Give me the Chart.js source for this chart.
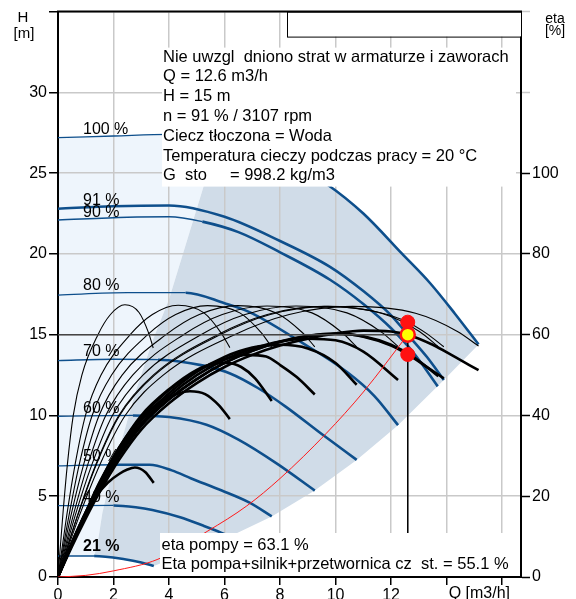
<!DOCTYPE html>
<html>
<head>
<meta charset="utf-8">
<script src="https://cdn.jsdelivr.net/npm/chart.js@4.4.1/dist/chart.umd.min.js"></script>
<style>
  html, body { margin: 0; padding: 0; background: #fff; }
  #c { display: block; }
</style>
</head>
<body>
<canvas id="c" width="576" height="599"></canvas>
<script>
// ---- Operating point ----
const opQ = 12.6;          // m3/h
const opH = 15;            // m
const etaPumpOp = 63.1;    // %
const etaTotalOp = 55.1;   // %
const speedPct = 91;
const speedRpm = 3107;

// ---- Head curves H(Q) [Q m3/h, H m] at relative speeds ----
const head100 = [[0,27.2],[2,27.3],[4,27.4],[6,27.0],[8,26.0],[9.7,24.3],[11,22.5],[12.4,20.0],[13.4,18.2],[14.3,16.3],[15.15,14.4]];
const head91  = [[0,22.8],[2,22.95],[4,23.0],[6,22.3],[8,20.8],[9.8,19.2],[11,17.7],[12,16.2],[12.6,15.0],[13.3,13.6],[13.9,12.2]];
const head90  = [[0,22.1],[2.5,22.27],[4,22.3],[5.2,22.0],[6.5,21.35],[8,20.1],[9.8,18.4],[11,16.9],[12,15.4],[12.8,13.9],[13.68,11.8]];
const head80  = [[0,17.45],[2.5,17.6],[4.6,17.6],[6.0,16.95],[6.9,16.4],[8.7,14.6],[10.4,12.7],[11.4,11.2],[12.25,9.4]];
const head70  = [[0,13.4],[2,13.48],[3.6,13.45],[5.2,13.1],[6.2,12.6],[7.2,11.7],[8.2,10.55],[9.5,8.85],[10.76,7.25]];
const head60  = [[0,9.95],[2.7,10.0],[4.0,9.9],[5.35,9.42],[6.5,8.5],[7.9,7.0],[9.25,5.35]];
const head50  = [[0,6.88],[2.0,6.95],[3.3,6.95],[4.1,6.6],[4.8,6.1],[5.9,5.35],[6.9,4.6],[7.7,3.75]];
const head40  = [[0,4.42],[2.0,4.43],[2.8,4.32],[3.4,4.15],[4.4,3.7],[5.2,3.2],[5.87,2.75],[6.19,2.5]];
const head21  = [[0,1.3],[1.3,1.3],[2.4,1.1],[3.0,0.9],[3.45,0.68]];

const speedLabels = ['100 %', '91 %', '90 %', '80 %', '70 %', '60 %', '50 %', '40 %', '21 %'];
const speedLabelH = [27.45, 23.05, 22.27, 17.76, 13.66, 10.17, 7.2, 4.63, 1.62];
const thickFromQ  = [6.0, 0, 5.2, 4.6, 3.6, 2.7, 2.0, 2.0, 1.3];
const labelQ = 0.9;

// ---- Pump efficiency [Q, eta %] ----
const etaPump21  = [[0,0],[0.17,15],[0.34,28],[0.55,40],[0.86,50],[1.44,60],[1.89,65],[2.41,67.4],[2.92,65.5],[3.26,60.5],[3.43,56.7]];
const etaPump40  = [[0,0],[0.31,15],[0.62,28],[0.99,40],[1.55,50],[2.6,60],[3.4,65],[4.33,67.3],[5.26,65.4],[5.88,60.4],[6.19,56.8]];
const etaPump50  = [[0,0],[0.39,15],[0.77,28],[1.23,40],[1.93,50],[3.23,60],[4.24,65],[5.39,67.2],[6.55,65.4],[7.32,60.5],[7.7,56.9]];
const etaPump60  = [[0,0],[0.46,15],[0.93,28],[1.48,40],[2.31,50],[3.89,60],[5.09,65],[6.48,67.2],[7.86,65.4],[8.79,60.6],[9.25,57]];
const etaPump70  = [[0,0],[0.54,15],[1.08,28],[1.72,40],[2.69,50],[4.52,60],[5.92,65],[7.53,67.1],[9.15,65.4],[10.22,60.6],[10.76,57]];
const etaPump80  = [[0,0],[0.61,15],[1.23,28],[1.96,40],[3.06,50],[5.15,60],[6.74,65],[8.58,67.1],[10.41,65.4],[11.64,60.7],[12.25,57.1]];
const etaPump90  = [[0,0],[0.69,15],[1.37,28],[2.19,40],[3.43,50],[5.75,60],[7.54,65],[9.59,67],[11.65,65.3],[13.02,60.8],[13.7,57]];
const etaPump91  = [[0,0],[0.7,15],[1.39,28],[2.22,40],[3.48,50],[5.84,60],[7.65,65],[9.73,67],[11.5,65.6],[12.6,63.1],[13.3,60.2],[13.9,57]];
const etaPump100 = [[0,0],[0.76,15],[1.52,28],[2.42,40],[3.79,50],[6.36,60],[8.33,65],[10.61,67],[12.88,65.3],[14.39,60.8],[15.15,57.2]];

// ---- Pump + motor + frequency converter efficiency [Q, eta %] ----
const etaTot21  = [[0,0],[0.5,8.5],[1.0,16],[1.31,19.5],[1.8,23.4],[2.2,25.5],[2.5,26.6],[2.77,27.1],[3.14,26.0],[3.45,23.3]];
const etaTot40  = [[0,0],[0.5,8.5],[1.0,16],[1.5,23.5],[2.2,32],[3.0,39.5],[3.7,43.3],[4.3,45.4],[4.75,46],[5.3,45.3],[5.8,42.5],[6.19,39.1]];
const etaTot50  = [[0,0],[0.5,8.4],[1.0,16],[1.5,23.3],[2.2,32],[3.0,40],[4.0,46.5],[5.0,51.3],[5.6,52.8],[6.1,53],[6.6,52],[7.1,49.2],[7.7,43.6]];
const etaTot60  = [[0,0],[0.5,8.3],[1.0,15.8],[1.5,23],[2.2,31.5],[3.0,39.5],[4.0,46.3],[5.0,51],[6.0,54],[6.8,55],[7.5,54.6],[8.0,52.5],[8.6,49.5],[9.25,45.2]];
const etaTot70  = [[0,0],[0.5,8.2],[1.0,15.5],[1.5,22.7],[2.2,31],[3.0,38.8],[4.0,45.5],[5.0,50.8],[6.0,54.5],[7.0,56.8],[8.0,57.5],[9.0,56.6],[10.0,53],[10.76,47.6]];
const etaTot80  = [[0,0],[0.5,8],[1.0,15.2],[1.5,22.3],[2.2,30.5],[3.0,38],[4.0,44.8],[5.0,50],[6.0,53.8],[7.0,56.5],[8.0,58.3],[9.0,59],[10.0,58.6],[11.0,55.8],[12.25,48.8]];
const etaTot90  = [[0,0],[0.5,8],[1.0,15],[1.5,22],[2.2,30],[3.0,37.5],[4.0,44],[5.0,49],[6.0,53],[7.0,56],[8.0,58.2],[9.0,59.6],[10.0,60.2],[11.0,59.6],[12.0,57.5],[12.8,54.5],[13.7,49.7]];
const etaTot91  = [[0,0],[0.5,8],[1.0,15],[1.5,22],[2.2,30],[3.0,37.5],[4.0,44],[5.0,49],[6.0,53],[7.0,56],[8.0,58.3],[9.0,59.7],[10.0,60.3],[11.0,59.5],[12.0,57.3],[12.6,55.1],[13.2,52.4],[13.9,49.2]];
const etaTot100 = [[0,0],[0.5,7.5],[1.0,14.5],[1.5,21],[2.2,29],[3.0,36.5],[4.0,43],[5.0,48],[6.0,52],[7.0,55],[8.0,57.3],[9.0,59],[10.0,60.3],[11.0,61],[12.0,60.8],[12.6,60],[13.5,57.5],[14.3,54.5],[15.15,51.2]];

// ---- System curve [Q, H] ----
const systemCurve = [[0,0],[1,0.1],[2,0.38],[3.6,1.1],[5.4,2.85],[6.8,4.4],[8,6.1],[9.67,8.9],[11,11.45],[opQ,opH]];

// ---- Operating range boundaries [Q, H] ----
const rangeMinFlow = [[1.3,1.3],[1.42,2.0],[1.6,4.0],[1.88,6.0],[2.3,8.5],[2.8,11.5],[3.4,14.6],[4.0,17.2],[5.25,24.2],[5.75,27.1]];
const rangeMaxFlow = [[15.15,14.4],[13.9,12.2],[12.25,9.4],[10.76,7.25],[9.25,5.35],[7.7,3.75],[6.19,2.5],[3.45,0.68]];

// ---- Text ----
const infoLines = [
  'Nie uwzgl  dniono strat w armaturze i zaworach',
  'Q = ' + opQ + ' m3/h',
  'H = ' + opH + ' m',
  'n = ' + speedPct + ' % / ' + speedRpm + ' rpm',
  'Ciecz tłoczona = Woda',
  'Temperatura cieczy podczas pracy = 20 °C',
  'G  sto     = 998.2 kg/m3'
];
const resultLines = [
  'eta pompy = ' + etaPumpOp + ' %',
  'Eta pompa+silnik+przetwornica cz  st. = ' + etaTotalOp + ' %'
];
const xAxisName = 'Q [m3/h]';
const yAxisName = ['H', '[m]'];
const y2AxisName = ['eta', '[%]'];

// ---- Styling ----
const FONT = "'Liberation Sans', Arial, sans-serif";
const BLUE = '#0e4f8c';
const GRID = '#c9c9c9';
const LIGHT_FILL = '#eef5fc';
const DARK_FILL = '#d0dce8';

Chart.defaults.font.family = FONT;
Chart.defaults.font.size = 16;
Chart.defaults.color = '#000';

const xy = pairs => pairs.map(([x, y]) => ({ x, y }));

// Filled areas: speed range left of minimum flow, and the operating range
const lightArea = [[0, head21[0][1]], ...head100.filter(p => p[0] < 5.75), ...rangeMinFlow.slice().reverse()];
const darkArea = [...rangeMinFlow, ...head100.filter(p => p[0] > 5.75), ...rangeMaxFlow.slice(1),
                  ...head21.filter(p => p[0] > 1.3 && p[0] < 3.45).reverse()];

const datasets = [];

datasets.push({
  data: xy(lightArea), yAxisID: 'y', fill: 'shape', backgroundColor: LIGHT_FILL,
  borderColor: 'rgba(0,0,0,0)', borderWidth: 0, pointRadius: 0, tension: 0, order: 101
});
datasets.push({
  data: xy(darkArea), yAxisID: 'y', fill: 'shape', backgroundColor: DARK_FILL,
  borderColor: 'rgba(0,0,0,0)', borderWidth: 0, pointRadius: 0, tension: 0, order: 100
});

const headCurves = [head100, head91, head90, head80, head70, head60, head50, head40, head21];
headCurves.forEach((c, i) => {
  const from = thickFromQ[i];
  datasets.push({
    data: xy(c), yAxisID: 'y', borderColor: BLUE, borderWidth: 2.6,
    cubicInterpolationMode: 'monotone', pointRadius: 0, fill: false, order: 60,
    segment: { borderWidth: ctx => (ctx.p0.parsed.x >= from - 1e-9 ? 2.6 : 1.3) }
  });
});

const pumpEta = [etaPump21, etaPump40, etaPump50, etaPump60, etaPump70, etaPump80, etaPump90, etaPump91, etaPump100];
pumpEta.forEach(c => datasets.push({
  data: xy(c), yAxisID: 'y2', borderColor: '#000', borderWidth: 1.1,
  cubicInterpolationMode: 'monotone', pointRadius: 0, fill: false, order: 52
}));

const totalEta = [etaTot21, etaTot40, etaTot50, etaTot60, etaTot70, etaTot80, etaTot90, etaTot91, etaTot100];
totalEta.forEach(c => datasets.push({
  data: xy(c), yAxisID: 'y2', borderColor: '#000', borderWidth: 2.6,
  cubicInterpolationMode: 'monotone', pointRadius: 0, fill: false, order: 50
}));

datasets.push({
  data: xy(systemCurve), yAxisID: 'y', borderColor: '#ff1a1a', borderWidth: 1,
  cubicInterpolationMode: 'monotone', pointRadius: 0, fill: false, order: 40
});

// Guide lines through the operating point
datasets.push({
  data: xy([[0, opH], [opQ, opH]]), yAxisID: 'y', borderColor: '#454545', borderWidth: 1.5,
  pointRadius: 0, fill: false, order: 30
});
datasets.push({
  data: xy([[opQ, opH], [opQ, 0]]), yAxisID: 'y', borderColor: '#000', borderWidth: 1,
  pointRadius: 0, fill: false, order: 30
});

// Efficiency markers at the operating point
datasets.push({
  data: xy([[opQ, etaPumpOp], [opQ, etaTotalOp]]), yAxisID: 'y2', showLine: false,
  pointRadius: 7, pointBackgroundColor: '#ff1111', pointBorderColor: '#ff1111', pointBorderWidth: 1,
  fill: false, order: 20
});
// Operating point
datasets.push({
  data: xy([[opQ, opH]]), yAxisID: 'y', showLine: false,
  pointRadius: 7, pointBackgroundColor: '#ffff00', pointBorderColor: '#ff1111', pointBorderWidth: 2.5,
  fill: false, order: 10
});

const annotations = {
  id: 'annotations',
  afterDatasetsDraw(chart) {
    const { ctx, chartArea: ca, scales: { x, y } } = chart;
    ctx.save();
    ctx.fillStyle = '#000';
    ctx.textBaseline = 'alphabetic';
    ctx.textAlign = 'left';

    // speed labels
    speedLabels.forEach((t, i) => {
      ctx.font = (t === '21 %' ? 'bold ' : '') + '16px ' + FONT;
      ctx.fillText(t, x.getPixelForValue(labelQ), y.getPixelForValue(speedLabelH[i]));
    });

    // info panel
    ctx.fillStyle = '#fff';
    ctx.fillRect(ca.left + 104, ca.top + 36, ca.right - 5 - (ca.left + 104), 139);
    ctx.fillStyle = '#000';
    ctx.font = '16.5px ' + FONT;
    infoLines.forEach((t, i) => ctx.fillText(t, ca.left + 105, ca.top + 50 + 19.8 * i));

    // result panel
    ctx.fillStyle = '#fff';
    ctx.fillRect(ca.left + 102, ca.bottom - 44, ca.right - 7 - (ca.left + 102), 43);
    ctx.fillStyle = '#000';
    resultLines.forEach((t, i) => ctx.fillText(t, ca.left + 103.5, ca.bottom - 27 + 18.5 * i));

    // empty header box
    ctx.fillStyle = '#fff';
    ctx.fillRect(ca.right - 234, ca.top, 234, 25);
    ctx.strokeStyle = '#000';
    ctx.lineWidth = 1;
    ctx.strokeRect(ca.right - 234 + 0.5, ca.top + 0.5, 234, 25);

    // top frame line
    ctx.lineWidth = 2;
    ctx.beginPath();
    ctx.moveTo(ca.left - 1, ca.top);
    ctx.lineTo(ca.right + 1, ca.top);
    ctx.stroke();

    // axis names
    ctx.fillStyle = '#000';
    ctx.textAlign = 'center';
    ctx.font = '15px ' + FONT;
    ctx.fillText(yAxisName[0], 23, 22);
    ctx.fillText(yAxisName[1], 24, 38);
    ctx.font = '14px ' + FONT;
    ctx.fillText(y2AxisName[0], 555, 23);
    ctx.fillText(y2AxisName[1], 555, 35);
    ctx.font = '16px ' + FONT;
    ctx.textAlign = 'right';
    ctx.fillText(xAxisName, ca.right - 11, ca.bottom + 21);
    ctx.restore();
  }
};

new Chart(document.getElementById('c'), {
  type: 'line',
  data: { datasets },
  options: {
    responsive: false,
    animation: false,
    events: [],
    layout: { padding: { top: 8, left: 0, right: 0, bottom: 0 } },
    plugins: {
      legend: { display: false },
      tooltip: { enabled: false },
      filler: { drawTime: 'beforeDraw' }
    },
    elements: { point: { radius: 0 } },
    scales: {
      x: {
        type: 'linear', min: 0, max: 16.68,
        ticks: {
          stepSize: 2, includeBounds: false, autoSkip: false, maxRotation: 0, padding: 1,
          callback: v => (v > 12 ? '' : String(v))
        },
        grid: { color: GRID, lineWidth: 1.5, tickColor: '#000', tickLength: 8, tickWidth: 1.5 },
        border: { color: '#000', width: 2 },
        afterFit: s => { s.height = 22; }
      },
      y: {
        position: 'left', min: 0, max: 35,
        ticks: { stepSize: 5, includeBounds: false, padding: 2, callback: v => (v > 30 ? '' : String(v)) },
        grid: { color: GRID, lineWidth: 1.5, tickColor: '#000', tickLength: 9, tickWidth: 1.5 },
        border: { color: '#000', width: 2 },
        afterFit: s => { s.width = 58; }
      },
      y2: {
        position: 'right', min: 0, max: 140,
        ticks: { stepSize: 20, includeBounds: false, padding: 2, callback: v => (v > 100 ? '' : String(v)) },
        grid: {
          drawOnChartArea: false, tickLength: 9, tickWidth: 1.5,
          tickColor: ctx => (ctx.tick && ctx.tick.value > 100 ? GRID : '#000')
        },
        border: { color: '#000', width: 2 },
        afterFit: s => { s.width = 55; }
      }
    }
  },
  plugins: [annotations]
});
</script>
</body>
</html>
